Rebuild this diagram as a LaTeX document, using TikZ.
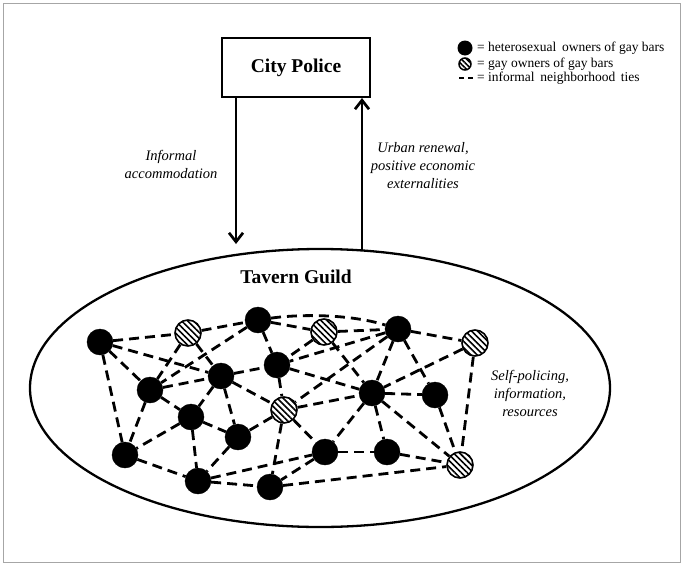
\documentclass[tikz,border=0pt]{standalone}
\usepackage{fontspec}
\setmainfont{Liberation Serif}
\usetikzlibrary{arrows.meta,patterns.meta,shapes.geometric}
\begin{document}
\begin{tikzpicture}[x=1pt,y=-1pt,
 bk/.style={circle,fill=black,draw=black,minimum size=26pt,inner sep=0pt},
 ht/.style={circle,draw=black,line width=1.6pt,minimum size=26pt,inner sep=0pt,pattern={Lines[angle=-45,distance=4.3pt,line width=1.6pt]}},
 tie/.style={line width=2.8pt,dash pattern=on 10pt off 6pt},
 arr/.style={line width=2.7pt,-{Straight Barb[length=9pt,width=14pt]}},
 lab/.style={font=\fontsize{14.5}{18}\selectfont\itshape,align=center},
 legtxt/.style={font=\fontsize{13.5}{15}\selectfont,anchor=west,inner sep=0pt},
]
\useasboundingbox (0,0) rectangle (683,565);
\draw[gray!70,line width=0.9pt] (3,3) rectangle (680,562);

% police box
\node[draw,line width=2.2pt,minimum width=148pt,minimum height=59pt,font=\fontsize{19.5}{22}\selectfont\bfseries] (police) at (296,67.5) {City Police};

% guild ellipse
\node[ellipse,draw,line width=2.3pt,minimum width=580pt,minimum height=278pt,inner sep=0pt] (guild) at (320,388) {};
\node[font=\fontsize{19.5}{22}\selectfont\bfseries] (tg) at (296,277) {Tavern Guild};

% arrows
\coordinate (d1) at (236,97);
\coordinate (d2) at (236,244);
\coordinate (u1) at (362,250);
\coordinate (u2) at (362,98);
\draw[arr] (d1) -- (d2);
\draw[arr] (u1) -- (u2);

\node[lab] (inf) at (171,164) {Informal\\accommodation};
\node[lab] (urb) at (423,166) {Urban renewal,\\positive economic\\externalities};
\node[lab] (self) at (530,393) {Self-policing,\\information,\\resources};

% legend
\node[circle,fill=black,minimum size=15pt,inner sep=0pt] (lg1) at (465,48) {};
\node[circle,draw=black,line width=1.5pt,minimum size=12pt,inner sep=0pt,pattern={Lines[angle=-45,distance=3.6pt,line width=1.6pt]}] (lg2) at (465,64) {};
\coordinate (lg3a) at (459,78);
\coordinate (lg3b) at (473,78);
\draw[line width=1.6pt,dash pattern=on 5pt off 4pt] (lg3a) -- (lg3b);
\node[legtxt] (t1) at (477,48) {= heterosexual\, owners of gay bars};
\node[legtxt] (t2) at (477,64) {= gay owners of gay bars};
\node[legtxt] (t3) at (477,78) {= informal\, neighborhood\, ties};

% network nodes
\node[bk] (a) at (100,342) {};
\node[ht] (h1) at (188,333) {};
\node[bk] (b) at (258,320) {};
\node[ht] (h2) at (324,332) {};
\node[bk] (c) at (398,329) {};
\node[ht] (h3) at (475,343) {};
\node[bk] (d) at (150,390) {};
\node[bk] (e) at (221,376) {};
\node[bk] (f) at (277,365) {};
\node[bk] (g) at (191,417) {};
\node[ht] (h4) at (284,410) {};
\node[bk] (i) at (238,437) {};
\node[bk] (j) at (372,393) {};
\node[bk] (k) at (435,395) {};
\node[bk] (l) at (125,455) {};
\node[bk] (m) at (325,452) {};
\node[bk] (n) at (387,452) {};
\node[bk] (o) at (198,481) {};
\node[bk] (p) at (270,487) {};
\node[ht] (h5) at (460,465) {};

\foreach \s/\t in {a/h1,a/d,a/e,a/l,
  h1/b,h1/e,h1/d,
  b/h2,b/f,b/d,
  h2/c,h2/j,h2/f,
  c/h3,c/j,c/k,c/f,c/h4,
  h3/j,h3/h5,
  d/e,d/l,d/g,
  e/f,e/i,e/h4,e/g,
  f/j,f/h4,
  g/l,g/o,g/i,
  h4/i,h4/j,h4/m,h4/p,
  j/k,j/m,j/n,j/h5,
  k/h5,l/o,m/n,m/p,o/m,n/h5,o/p,i/o,p/h5}
  \draw[tie] (\s) -- (\t);
% top tie from b to c passing above h2
\draw[tie] (b) .. controls (300,314) and (350,314) .. (c);
\end{tikzpicture}
\end{document}
